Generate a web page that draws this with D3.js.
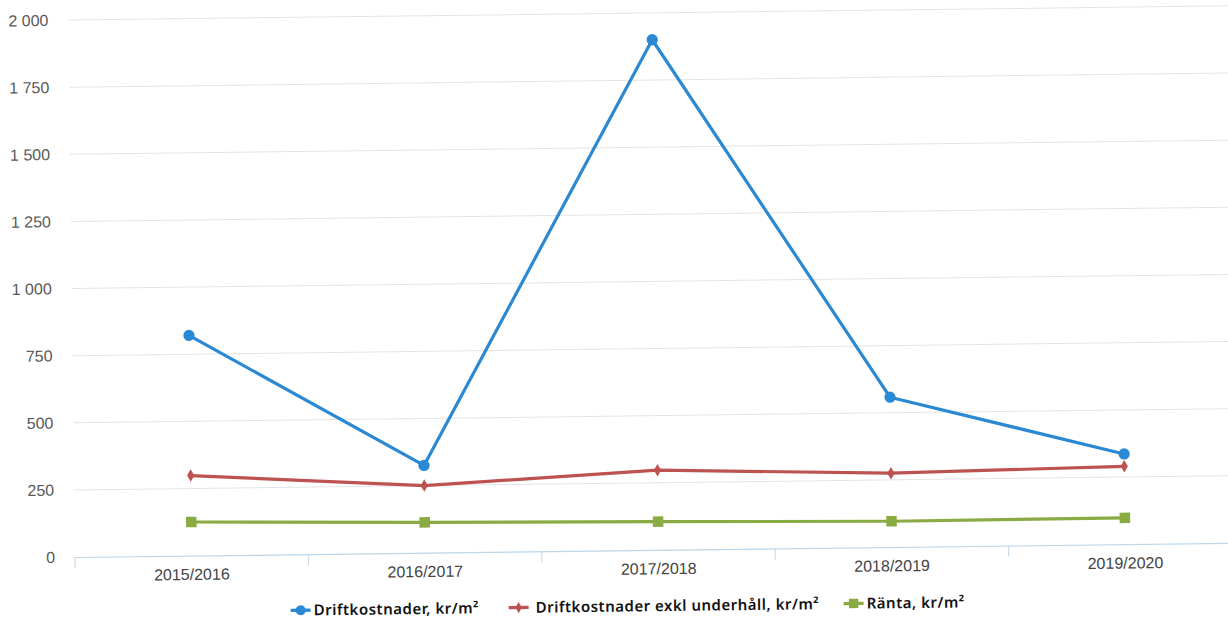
<!DOCTYPE html>
<html>
<head>
<meta charset="utf-8">
<script src="https://cdn.jsdelivr.net/npm/d3@7"></script>
<style>
  html, body { margin: 0; padding: 0; background: #fff; }
  svg { display: block; }
</style>
</head>
<body>
<svg id="chart" width="1228" height="621"></svg>
<script>
// ---- data ----
const categories = ["2015/2016", "2016/2017", "2017/2018", "2018/2019", "2019/2020"];
const driftkostnader = [820, 325, 1900, 558, 336];
const driftExklUnderhall = [298, 250, 297, 275, 290];
const ranta = [125, 113, 105, 96, 98];
const yTicks = [0, 250, 500, 750, 1000, 1250, 1500, 1750, 2000];
const seriesNames = ["Driftkostnader, kr/m²", "Driftkostnader exkl underhåll, kr/m²", "Ränta, kr/m²"];

// ---- layout ----
const W = 1228, H = 621;
const plotLeft = 75, plotRight = 1242, plotBottom = 557, plotTop = 20;
const colors = ["#2b88d3", "#bd5350", "#8aab43"];
const symbols = [d3.symbolCircle, d3.symbolDiamond, d3.symbolSquare];
const symSizes = [100, 45, 110];

const svg = d3.select("#chart");
svg.append("rect").attr("width", W).attr("height", H).attr("fill", "#fff");

// whole chart slightly rotated like the scanned reference
const g = svg.append("g").attr("transform", `rotate(-0.7, ${plotLeft}, ${plotBottom})`);

const x = d3.scaleBand().domain(categories).range([plotLeft, plotRight]).padding(0);
const y = d3.scaleLinear().domain([0, 2000]).range([plotBottom, plotTop]);

// gridlines
g.append("g").selectAll("line")
  .data(yTicks.filter(d => d > 0))
  .join("line")
  .attr("x1", plotLeft).attr("x2", plotRight)
  .attr("y1", d => y(d)).attr("y2", d => y(d))
  .attr("stroke", "#e4e4e4").attr("stroke-width", 1);

// y axis labels
const fmt = d => d3.format(",")(d).replace(/,/g, " ");
const yAxis = g.append("g")
  .attr("transform", `translate(${plotLeft},0)`)
  .call(d3.axisLeft(y).tickValues(yTicks).tickFormat(fmt).tickSize(0).tickPadding(20));
yAxis.select(".domain").remove();
yAxis.selectAll("text")
  .attr("font-family", "Liberation Sans, Arial, sans-serif")
  .attr("font-size", 16).attr("fill", "#5a5a5a");

// x axis
const xAxis = g.append("g")
  .attr("transform", `translate(0,${plotBottom})`)
  .call(d3.axisBottom(x).tickSize(0).tickPadding(13));
xAxis.select(".domain").attr("stroke", "#bcd6ea").attr("stroke-width", 1.2);
xAxis.selectAll("text")
  .attr("font-family", "Liberation Sans, Arial, sans-serif")
  .attr("font-size", 16).attr("fill", "#444");
// boundary ticks
const boundaries = categories.map(c => x(c)).concat([x(categories[categories.length - 1]) + x.step()]);
xAxis.append("g").selectAll("line")
  .data(boundaries)
  .join("line")
  .attr("x1", d => d).attr("x2", d => d)
  .attr("y1", 0).attr("y2", 11)
  .attr("stroke", "#c8dcec").attr("stroke-width", 1.2);

// series
const allSeries = [driftkostnader, driftExklUnderhall, ranta];
const cx = c => x(c) + x.bandwidth() / 2;
const line = d3.line().x((d, i) => cx(categories[i])).y(d => y(d));

allSeries.forEach((vals, si) => {
  g.append("path")
    .datum(vals)
    .attr("d", line)
    .attr("fill", "none")
    .attr("stroke", colors[si])
    .attr("stroke-width", 3.2)
    .attr("stroke-linejoin", "round");
  g.append("g").selectAll("path")
    .data(vals)
    .join("path")
    .attr("transform", (d, i) => `translate(${cx(categories[i])},${y(d)})`)
    .attr("d", d3.symbol().type(symbols[si]).size(symSizes[si]))
    .attr("fill", colors[si]);
});

// legend
const legendY = 613;
const legendItems = [
  { x: 290, tx: 313 },
  { x: 508, tx: 535 },
  { x: 843, tx: 866 }
];
const lg = g.append("g");
legendItems.forEach((it, i) => {
  lg.append("line")
    .attr("x1", it.x).attr("x2", it.x + 20)
    .attr("y1", legendY).attr("y2", legendY)
    .attr("stroke", colors[i]).attr("stroke-width", 3.2);
  lg.append("path")
    .attr("transform", `translate(${it.x + 10},${legendY})`)
    .attr("d", d3.symbol().type(symbols[i]).size(symSizes[i] * 0.8))
    .attr("fill", colors[i]);
  lg.append("text")
    .attr("x", it.tx).attr("y", legendY)
    .attr("dy", "0.35em")
    .attr("font-family", "Noto Sans, sans-serif")
    .attr("font-weight", 600)
    .attr("font-size", 15)
    .attr("letter-spacing", 0.5)
    .attr("fill", "#111")
    .text(seriesNames[i]);
});
</script>
</body>
</html>
